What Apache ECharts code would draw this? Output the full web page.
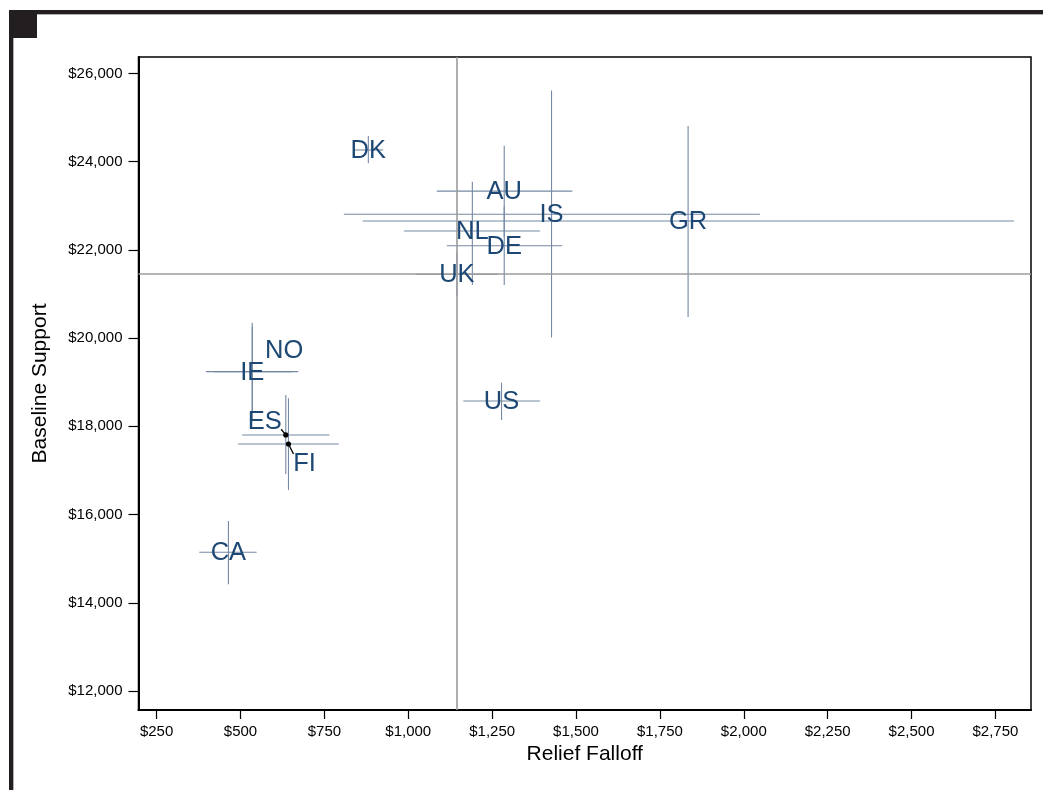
<!DOCTYPE html>
<html>
<head>
<meta charset="utf-8">
<script src="https://cdn.jsdelivr.net/npm/echarts@6/dist/echarts.min.js"></script>
<style>html,body{margin:0;padding:0;background:#fff;}#c{width:1043px;height:790px;}</style>
</head>
<body>
<div id="c"></div>
<script>
// ---- data ----
const countries       = ['DK','AU','IS','GR','NL','DE','UK','US','CA','IE','NO','ES','FI'];
const reliefFalloff   = [881, 1286, 1427, 1834, 1191, 1286, 1145, 1278, 464, 535, 535, 635, 643];
const reliefLow       = [835, 1085,  808,  864,  987, 1115, 1022, 1164, 377, 397, 420, 505, 493];
const reliefHigh      = [925, 1489, 2048, 2805, 1393, 1459, 1267, 1393, 548, 672, 655, 765, 793];
const baselineSupport = [24266, 23332, 22808, 22656, 22429, 22096, 21448, 18575, 15145, 19240, 19240, 17805, 17600];
const supportLow      = [23964, 22301, 20015, 20480, 21205, 21205, 20950, 18145, 14420, 18130, 18300, 16920, 16558];
const supportHigh     = [24583, 24363, 25615, 24810, 23547, 22987, 21950, 18990, 15855, 20350, 20250, 18711, 18637];
const refRelief  = 1145;
const refSupport = 21450;
const xTicks = [250, 500, 750, 1000, 1250, 1500, 1750, 2000, 2250, 2500, 2750];
const yTicks = [12000, 14000, 16000, 18000, 20000, 22000, 24000, 26000];

// ---- label placement (styling) ----
const labelPlace = {
  NO: {dx: 32, dy: -22},
  ES: {dx: -21, dy: -14, dot: true, line: [-4.7, -5.7]},
  FI: {dx: 16, dy: 19, dot: true, line: [5, 10]}
};

const fmt = v => '$' + v.toLocaleString('en-US');
const FONT = 'Liberation Sans, Arial, Helvetica, sans-serif';
const barColor = '#7589a4';
const labelColor = '#1d4873';

const rows = countries.map((c, i) => [reliefFalloff[i], baselineSupport[i], reliefLow[i], reliefHigh[i], supportLow[i], supportHigh[i], c]);

const chart = echarts.init(document.getElementById('c'), null, {renderer: 'canvas'});
chart.setOption({
  animation: false,
  backgroundColor: '#fff',
  graphic: [
    {type: 'rect', shape: {x: 9, y: 10, width: 1034, height: 4}, style: {fill: '#231f20'}, z: 100},
    {type: 'rect', shape: {x: 9, y: 14, width: 1034, height: 1}, style: {fill: '#b0b0b0'}, z: 100},
    {type: 'rect', shape: {x: 9, y: 10, width: 4, height: 780}, style: {fill: '#231f20'}, z: 100},
    {type: 'rect', shape: {x: 13, y: 14, width: 1, height: 776}, style: {fill: '#b0b0b0'}, z: 100},
    {type: 'rect', shape: {x: 9, y: 10, width: 28, height: 28}, style: {fill: '#231f20'}, z: 100}
  ],
  grid: {left: 138.5, top: 57, right: 12, bottom: 80, show: true, borderColor: '#000', borderWidth: 1.5, containLabel: false},
  xAxis: {
    type: 'value', min: 196, max: 2856,
    name: 'Relief Falloff', nameLocation: 'middle', nameGap: 31,
    nameTextStyle: {fontSize: 21, fontFamily: FONT, color: '#000'},
    axisLine: {show: true, lineStyle: {color: '#000', width: 2}},
    axisTick: {show: true, length: 9, customValues: xTicks, lineStyle: {color: '#000', width: 1.2}},
    axisLabel: {customValues: xTicks, formatter: fmt, fontSize: 15, fontFamily: FONT, color: '#000', margin: 14},
    splitLine: {show: false}
  },
  yAxis: {
    type: 'value', min: 11569, max: 26374,
    name: 'Baseline Support', nameLocation: 'middle', nameGap: 88, nameRotate: 90,
    nameTextStyle: {fontSize: 21, fontFamily: FONT, color: '#000'},
    axisLine: {show: true, lineStyle: {color: '#000', width: 2}},
    axisTick: {show: true, length: 10, customValues: yTicks, lineStyle: {color: '#000', width: 1.2}},
    axisLabel: {customValues: yTicks, formatter: fmt, fontSize: 15, fontFamily: FONT, color: '#000', margin: 16},
    splitLine: {show: false}
  },
  series: [
    {
      type: 'line', data: [], silent: true,
      markLine: {
        silent: true, symbol: 'none', animation: false,
        label: {show: false},
        lineStyle: {color: '#9c9c9c', width: 1.6, type: 'solid'},
        data: [{xAxis: refRelief}, {yAxis: refSupport}]
      }
    },
    {
      type: 'custom', name: 'bars', data: rows, z: 3, silent: true,
      encode: {x: 0, y: 1},
      renderItem: function (params, api) {
        const c = api.coord([api.value(0), api.value(1)]);
        const l = api.coord([api.value(2), api.value(1)]);
        const r = api.coord([api.value(3), api.value(1)]);
        const lo = api.coord([api.value(0), api.value(4)]);
        const hi = api.coord([api.value(0), api.value(5)]);
        return {type: 'group', children: [
          {type: 'line', shape: {x1: l[0], y1: c[1], x2: r[0], y2: c[1]}, style: {stroke: barColor, lineWidth: 1.1}},
          {type: 'line', shape: {x1: c[0], y1: lo[1], x2: c[0], y2: hi[1]}, style: {stroke: barColor, lineWidth: 1.1}}
        ]};
      }
    },
    {
      type: 'custom', name: 'labels', data: rows, z: 5, silent: true,
      encode: {x: 0, y: 1},
      renderItem: function (params, api) {
        const name = countries[params.dataIndex];
        const c = api.coord([api.value(0), api.value(1)]);
        const p = labelPlace[name] || {dx: 0, dy: 0};
        const kids = [];
        if (p.line) {
          kids.push({type: 'line', shape: {x1: c[0], y1: c[1], x2: c[0] + p.line[0], y2: c[1] + p.line[1]}, style: {stroke: '#000', lineWidth: 1.3}});
        }
        if (p.dot) {
          kids.push({type: 'circle', shape: {cx: c[0], cy: c[1], r: 2.6}, style: {fill: '#000'}});
        }
        kids.push({type: 'text', x: c[0] + p.dx, y: c[1] + p.dy + 1,
          style: {text: name, align: 'center', verticalAlign: 'middle', fill: labelColor, fontSize: 25.5, fontFamily: FONT}});
        return {type: 'group', children: kids};
      }
    }
  ]
});
</script>
</body>
</html>
